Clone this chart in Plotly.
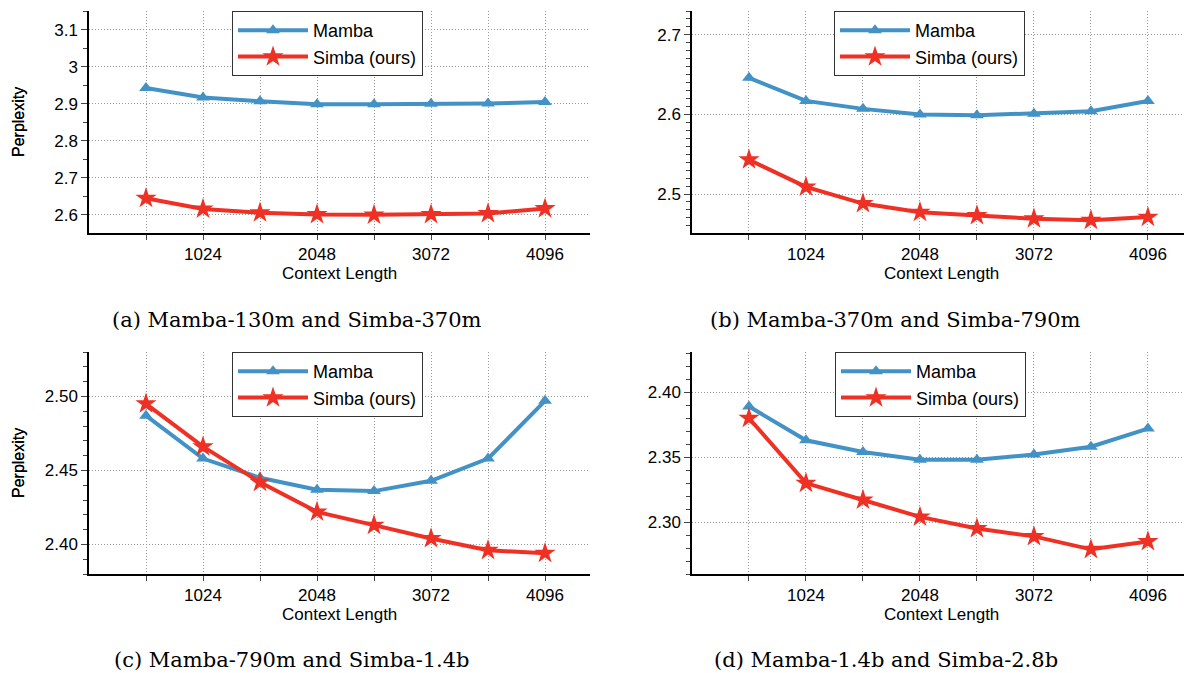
import plotly.graph_objects as go

context_len = [512, 1024, 1536, 2048, 2560, 3072, 3584, 4096]
x_tick_vals = [512, 1024, 1536, 2048, 2560, 3072, 3584, 4096]
x_tick_text = ["", "1024", "", "2048", "", "3072", "", "4096"]

mamba_a = [2.943, 2.917, 2.907, 2.899, 2.899, 2.900, 2.901, 2.905]
simba_a = [2.645, 2.616, 2.606, 2.601, 2.600, 2.601, 2.604, 2.617]
mamba_b = [2.646, 2.617, 2.607, 2.600, 2.599, 2.601, 2.604, 2.617]
simba_b = [2.543, 2.509, 2.488, 2.477, 2.473, 2.469, 2.467, 2.471]
mamba_c = [2.487, 2.458, 2.445, 2.437, 2.436, 2.443, 2.458, 2.497]
simba_c = [2.495, 2.466, 2.442, 2.422, 2.413, 2.404, 2.396, 2.394]
mamba_d = [2.389, 2.363, 2.354, 2.348, 2.348, 2.352, 2.358, 2.372]
simba_d = [2.380, 2.330, 2.317, 2.304, 2.295, 2.289, 2.279, 2.285]

captions = ["(a) Mamba-130m and Simba-370m", "(b) Mamba-370m and Simba-790m",
            "(c) Mamba-790m and Simba-1.4b", "(d) Mamba-1.4b and Simba-2.8b"]
series_names = ["Mamba", "Simba (ours)"]

W, H = 1184, 673
BLUE = "#4292c6"
RED = "#ee3124"
SANS = "Liberation Sans, Arial, sans-serif"

panels = [
    dict(m=mamba_a, s=simba_a, px=(89, 590), py=(11, 233), xr=[0, 4500], yr=[2.551, 3.151],
         dtick=0.1, tick0=2.6, minor=0.05, fmt="", leg=(232, 11), cap=(297, 320)),
    dict(m=mamba_b, s=simba_b, px=(692, 1184), py=(11, 233), xr=[0, 4420], yr=[2.451, 2.73],
         dtick=0.1, tick0=2.5, minor=0.01, fmt="", leg=(834, 11), cap=(895, 320)),
    dict(m=mamba_c, s=simba_c, px=(89, 590), py=(352, 574), xr=[0, 4500], yr=[2.380, 2.530],
         dtick=0.05, tick0=2.40, minor=0.01, fmt=".2f", leg=(232, 352), cap=(292, 660)),
    dict(m=mamba_d, s=simba_d, px=(692, 1184), py=(352, 574), xr=[0, 4420], yr=[2.26, 2.431],
         dtick=0.05, tick0=2.30, minor=0.01, fmt=".2f", leg=(835, 352), cap=(886, 660)),
]

fig = go.Figure()
annotations = []
layout = {}
for i, p in enumerate(panels, start=1):
    sfx = "" if i == 1 else str(i)
    leg = "legend" if i == 1 else f"legend{i}"
    xa, ya = f"x{sfx}", f"y{sfx}"
    fig.add_trace(go.Scatter(
        x=context_len, y=p["m"], name=series_names[0], mode="lines+markers",
        line=dict(color=BLUE, width=4), marker=dict(symbol="triangle-up", size=12, color=BLUE),
        xaxis=xa, yaxis=ya, legend=leg))
    fig.add_trace(go.Scatter(
        x=context_len, y=p["s"], name=series_names[1], mode="lines+markers",
        line=dict(color=RED, width=4), marker=dict(symbol="star", size=16, color=RED),
        xaxis=xa, yaxis=ya, legend=leg))
    x0, x1 = p["px"]
    y0, y1 = p["py"]
    layout[f"xaxis{sfx}"] = dict(
        domain=[x0 / W, min(x1 / W, 1.0)], range=p["xr"], anchor=ya,
        tickvals=x_tick_vals, ticktext=x_tick_text, ticks="outside", ticklen=5,
        tickcolor="#444", showline=True, linecolor="black", linewidth=1.5,
        showgrid=True, gridcolor="#999", griddash="1px,2px", gridwidth=1, zeroline=False,
        tickfont=dict(family=SANS, size=17, color="black"))
    layout[f"yaxis{sfx}"] = dict(
        domain=[(H - y1) / H, (H - y0) / H], range=p["yr"], anchor=xa,
        tick0=p["tick0"], dtick=p["dtick"], tickformat=p["fmt"], ticks="outside", ticklen=6,
        tickcolor="#444", showline=True, linecolor="black", linewidth=1.5,
        showgrid=True, gridcolor="#999", griddash="1px,2px", gridwidth=1, zeroline=False,
        tickfont=dict(family=SANS, size=17, color="black"),
        minor=dict(dtick=p["minor"], tick0=p["tick0"], ticks="outside", ticklen=4,
                   tickcolor="#444", showgrid=False))
    lx, ly = p["leg"]
    layout[leg] = dict(
        x=lx / W, y=(H - ly) / H, xanchor="left", yanchor="top", xref="paper", yref="paper",
        bordercolor="#333", borderwidth=1, bgcolor="white",
        font=dict(family=SANS, size=18, color="black"), itemwidth=70, tracegroupgap=0)
    annotations.append(dict(
        text="Perplexity", x=18 / W, y=(H - (y0 + y1) / 2) / H, xref="paper", yref="paper",
        textangle=-90, showarrow=False, font=dict(family=SANS, size=16, color="black"),
        xanchor="center", yanchor="middle"))
    annotations.append(dict(
        text="Context Length", x=((x0 + min(x1, 1184)) / 2 + (0 if i % 2 else 3)) / W,
        y=(H - (y1 + 40)) / H, xref="paper", yref="paper", showarrow=False,
        font=dict(family=SANS, size=17, color="black"), xanchor="center", yanchor="middle"))
    cx, cy = p["cap"]
    annotations.append(dict(
        text=captions[i - 1], x=cx / W, y=(H - cy) / H, xref="paper", yref="paper",
        showarrow=False, font=dict(family="DejaVu Serif, serif", size=21, color="black"),
        xanchor="center", yanchor="middle"))

fig.update_layout(
    width=W, height=H, margin=dict(l=0, r=0, t=0, b=0),
    paper_bgcolor="white", plot_bgcolor="white", annotations=annotations, **layout)
fig.write_html("out.html", config={"displayModeBar": False},
               post_script="document.body.style.margin='0';document.body.style.padding='0';"
                           "document.body.style.overflow='hidden';")
